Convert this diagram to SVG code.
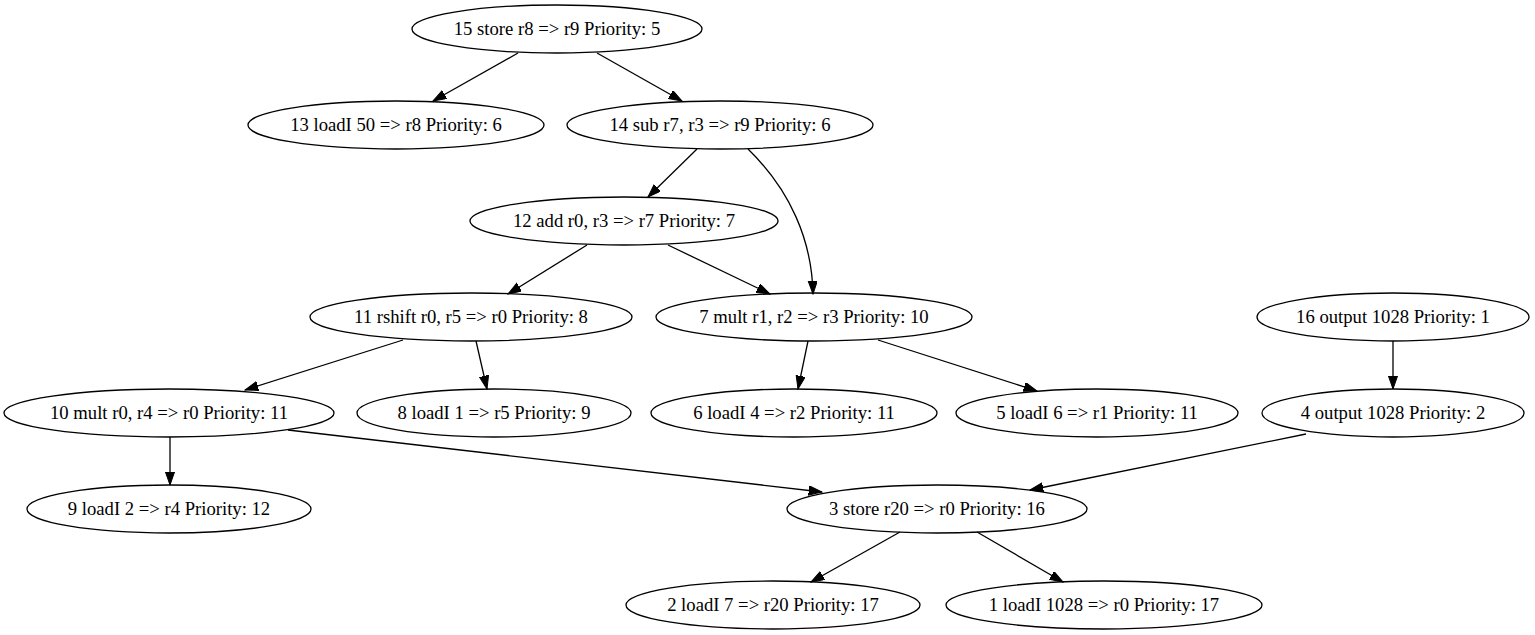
<svg xmlns="http://www.w3.org/2000/svg" width="1535" height="635" viewBox="0 0 1535 635">
<style>
.n ellipse{fill:none;stroke:#000;stroke-width:1.3}
.n text{font-family:"Liberation Serif","Times New Roman",serif;font-size:18.67px;text-anchor:middle;fill:#000}
.e path{fill:none;stroke:#000;stroke-width:1.3;marker-end:url(#ah)}
</style>
<defs>
<marker id="ah" markerUnits="userSpaceOnUse" markerWidth="14" markerHeight="10" refX="13.3" refY="4.67" orient="auto">
<path d="M0,0 L13.3,4.67 L0,9.33 z" fill="#000" stroke="#000" stroke-width="1"/>
</marker>
</defs>
<rect width="1535" height="635" fill="#fff"/>
<g id="connectors" class="e">
<path d="M518,53 L433,101"/>
<path d="M597,53 L682,101"/>
<path d="M697,149 L648,197"/>
<path d="M748,149 C790,190 812,240 813,294"/>
<path d="M587,245 L508,294"/>
<path d="M668,245 L770,294"/>
<path d="M403,340 L245,390"/>
<path d="M476,341 L487,389"/>
<path d="M808,341 L798,389"/>
<path d="M878,340 L1037,391"/>
<path d="M1393,341 L1393,389"/>
<path d="M170,437 L170,485"/>
<path d="M288,430 L822,492"/>
<path d="M1306,434 L1030,490"/>
<path d="M900,532 L811,582"/>
<path d="M977,532 L1063,582"/>
</g>
<g id="n15" class="n"><ellipse cx="557" cy="29" rx="145" ry="24"/><text x="557" y="35">15 store r8 =&gt; r9 Priority: 5</text></g>
<g id="n13" class="n"><ellipse cx="396" cy="125" rx="148" ry="24"/><text x="396" y="131">13 loadI 50 =&gt; r8 Priority: 6</text></g>
<g id="n14" class="n"><ellipse cx="720" cy="125" rx="153" ry="24"/><text x="720" y="131">14 sub r7, r3 =&gt; r9 Priority: 6</text></g>
<g id="n12" class="n"><ellipse cx="624" cy="221" rx="154" ry="24"/><text x="624" y="227">12 add r0, r3 =&gt; r7 Priority: 7</text></g>
<g id="n11" class="n"><ellipse cx="471" cy="317" rx="161" ry="24"/><text x="471" y="323">11 rshift r0, r5 =&gt; r0 Priority: 8</text></g>
<g id="n7" class="n"><ellipse cx="814" cy="317" rx="158" ry="24"/><text x="814" y="323">7 mult r1, r2 =&gt; r3 Priority: 10</text></g>
<g id="n16" class="n"><ellipse cx="1393" cy="317" rx="136" ry="24"/><text x="1393" y="323">16 output 1028 Priority: 1</text></g>
<g id="n10" class="n"><ellipse cx="169" cy="413" rx="165" ry="24"/><text x="169" y="419">10 mult r0, r4 =&gt; r0 Priority: 11</text></g>
<g id="n8" class="n"><ellipse cx="494" cy="413" rx="137" ry="24"/><text x="494" y="419">8 loadI 1 =&gt; r5 Priority: 9</text></g>
<g id="n6" class="n"><ellipse cx="794" cy="413" rx="143" ry="24"/><text x="794" y="419">6 loadI 4 =&gt; r2 Priority: 11</text></g>
<g id="n5" class="n"><ellipse cx="1097" cy="413" rx="141" ry="24"/><text x="1097" y="419">5 loadI 6 =&gt; r1 Priority: 11</text></g>
<g id="n4" class="n"><ellipse cx="1393" cy="413" rx="131" ry="24"/><text x="1393" y="419">4 output 1028 Priority: 2</text></g>
<g id="n9" class="n"><ellipse cx="169" cy="509" rx="142" ry="24"/><text x="169" y="515">9 loadI 2 =&gt; r4 Priority: 12</text></g>
<g id="n3" class="n"><ellipse cx="937" cy="509" rx="150" ry="24"/><text x="937" y="515">3 store r20 =&gt; r0 Priority: 16</text></g>
<g id="n2" class="n"><ellipse cx="773" cy="605" rx="147" ry="24"/><text x="773" y="611">2 loadI 7 =&gt; r20 Priority: 17</text></g>
<g id="n1" class="n"><ellipse cx="1104" cy="605" rx="158" ry="24"/><text x="1104" y="611">1 loadI 1028 =&gt; r0 Priority: 17</text></g>
</svg>
